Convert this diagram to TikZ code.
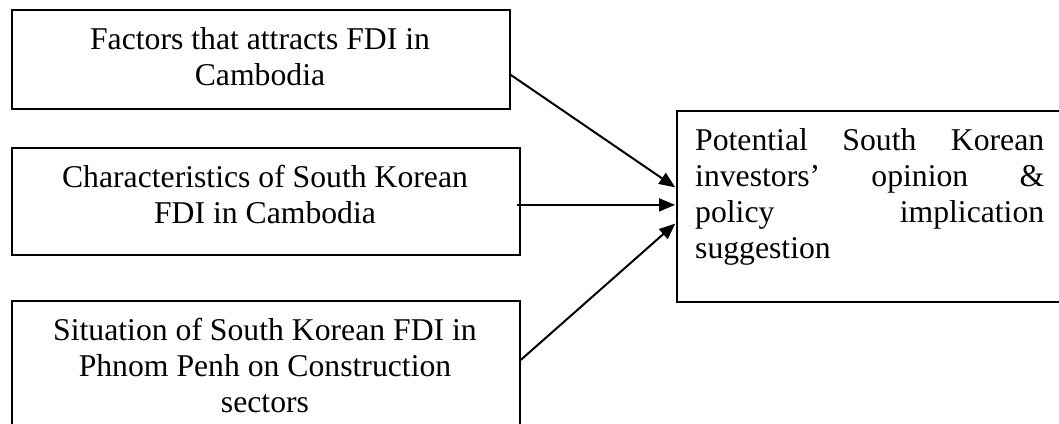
\documentclass[tikz,border=0pt]{standalone}
\usepackage{fontspec}
\setmainfont{Liberation Serif}
\usetikzlibrary{arrows.meta}
\begin{document}
\begin{tikzpicture}[x=1pt,y=-1pt,
  box/.style={draw=black, line width=1.8pt, inner sep=0pt, anchor=north west, rectangle},
  txt/.style={inner sep=0pt, font=\fontsize{31.7}{36}\selectfont},
  arr/.style={draw=black, line width=2pt, shorten >=1pt, -{Triangle[length=16pt,width=13pt]}}]
\useasboundingbox (0,0) rectangle (1059,423);
\fill[white] (0,0) rectangle (1059,423);
\node[box, minimum width=498pt, minimum height=99pt] (b1) at (11,9) {};
\node[box, minimum width=508pt, minimum height=107pt] (b2) at (11,147) {};
\node[box, minimum width=508pt, minimum height=135pt] (b3) at (11,300) {};
\node[box, minimum width=395pt, minimum height=191pt] (r) at (676,110) {};
\node[txt, anchor=base] (t1) at (260,49) {\begin{tabular}[t]{@{}c@{}}Factors that attracts FDI in\\Cambodia\end{tabular}};
\node[txt, anchor=base] (t2) at (265,187) {\begin{tabular}[t]{@{}c@{}}Characteristics of South Korean\\FDI in Cambodia\end{tabular}};
\node[txt, anchor=base] (t3) at (265,340) {\begin{tabular}[t]{@{}c@{}}Situation of South Korean FDI in\\Phnom Penh on Construction\\sectors\end{tabular}};
\node[txt, anchor=base west] (t4) at (695,150) {\begin{tabular}[t]{@{}l@{}}\makebox[349pt][s]{Potential South Korean}\\\makebox[349pt][s]{investors’ opinion \&}\\\makebox[349pt][s]{policy implication}\\\makebox[349pt][l]{suggestion}\end{tabular}};
\draw[arr] ([yshift=-15.5pt]b1.east) -- ([yshift=18.5pt]r.west);
\draw[arr] ([xshift=-3.5pt,yshift=-3.5pt]b2.east) -- ([yshift=1.5pt]r.west);
\draw[arr] ([yshift=8.5pt]b3.east) -- ([yshift=-16.5pt]r.west);
\end{tikzpicture}
\end{document}
